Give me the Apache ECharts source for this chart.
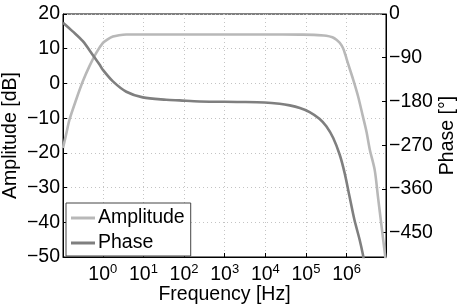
<!DOCTYPE html>
<html>
<head>
<meta charset="utf-8">
<script src="https://cdn.jsdelivr.net/npm/echarts@6/dist/echarts.min.js"></script>
<style>html,body{margin:0;padding:0;background:#fff}#c{width:457px;height:308px}</style>
</head>
<body>
<div id="c"></div>
<script>
// Amplitude series (frequency in Hz, amplitude in dB)
const ampFreq = [0.1052, 0.1259, 0.1514, 0.2213, 0.3236, 0.4677, 0.6918, 1, 1.318, 1.778, 2.512, 3.802, 10, 100, 1000, 10000, 70800, 158000, 316000, 447000, 562000, 676000, 813000, 933000, 1070000, 1450000, 1910000, 2510000, 3090000, 3720000, 4900000, 5890000, 7240000, 8700000, 9300000];
const ampDb = [-18.6, -14.6, -10.5, -4.7, 0.6, 4.9, 8.8, 11.6, 12.7, 13.5, 13.9, 14.1, 14.1, 14.1, 14.1, 14.1, 14.05, 14.0, 13.75, 13.3, 12.6, 11.7, 10.2, 8.2, 5.9, 1.1, -3.7, -9.5, -14.0, -19.1, -24.9, -32.6, -41.2, -48.9, -51.5];
// Phase series (frequency in Hz, phase in degrees)
const phaseFreq = [0.1052, 0.182, 0.3236, 0.5623, 0.832, 1, 1.778, 3.802, 9.66, 36.3, 77.6, 240, 2344, 9550, 22390, 39810, 70790, 123000, 213800, 316200, 467700, 676100, 891300, 1175000, 1549000, 2089000, 2512000, 2818000];
const phaseDeg = [-18, -35.8, -56, -83.8, -104, -114.6, -138.7, -160, -171.6, -176.4, -177.8, -179.9, -181, -182, -184.6, -188, -193.5, -201.7, -215.5, -231, -255, -289.6, -327, -375, -423, -464.5, -495, -520];
// Tick labels
const phaseTicks = [0, -90, -180, -270, -360, -450];
const seriesNames = ['Amplitude', 'Phase'];

const FONT = "'Liberation Sans', Arial, Helvetica, sans-serif";
const FS = 19.5;
const minus = v => String(v).replace('-', '\u2212');

const chart = echarts.init(document.getElementById('c'), null, {renderer: 'canvas'});
chart.setOption({
  animation: false,
  backgroundColor: '#fff',
  textStyle: {fontFamily: FONT},
  grid: {left: 63, right: 71, top: 14, bottom: 51, show: true, borderColor: '#000', borderWidth: 1, containLabel: false, outerBoundsMode: 'none'},
  legend: {
    orient: 'vertical', left: 66, top: 203,
    data: seriesNames,
    icon: 'rect',
    backgroundColor: '#fff', borderColor: '#444', borderWidth: 1,
    padding: [5, 6, 3, 5], itemGap: 5, itemWidth: 24, itemHeight: 3,
    textStyle: {fontSize: FS, color: '#000', fontFamily: FONT, padding: [0, 0, 0, -2]}
  },
  xAxis: {
    type: 'log', logBase: 10, min: ampFreq[0], max: ampFreq[ampFreq.length - 1],
    axisLine: {onZero: false, lineStyle: {color: '#000', width: 1}},
    axisTick: {inside: true, length: 4, lineStyle: {color: '#000'}},
    minorTick: {show: false},
    splitLine: {show: true, lineStyle: {color: '#c4c4c4', type: [1, 3], width: 1}},
    axisLabel: {
      margin: 6, color: '#000', showMinLabel: false, showMaxLabel: false,
      formatter: v => {
        const l = Math.log10(v); const k = Math.round(l);
        if (Math.abs(l - k) > 1e-6) return '';
        return '{b|10}{s|' + k + '}';
      },
      rich: {
        b: {fontSize: FS, fontFamily: FONT, color: '#000', lineHeight: 24},
        s: {fontSize: 13, fontFamily: FONT, color: '#000', lineHeight: 14, verticalAlign: 'top'}
      }
    },
    name: 'Frequency [Hz]', nameLocation: 'middle', nameGap: 28, nameMoveOverlap: false,
    nameTextStyle: {fontSize: FS, color: '#000', fontFamily: FONT}
  },
  yAxis: [{
    type: 'value', min: -50, max: 20, interval: 10, position: 'left',
    axisLine: {show: true, onZero: false, lineStyle: {color: '#000'}},
    axisTick: {show: true, inside: true, length: 4, lineStyle: {color: '#000'}},
    splitLine: {show: true, lineStyle: {color: '#c4c4c4', type: [1, 3], width: 1}},
    axisLabel: {margin: 3, color: '#000', fontSize: FS, fontFamily: FONT, formatter: minus},
    name: 'Amplitude [dB]', nameLocation: 'middle', nameGap: 42, nameRotate: 90, nameMoveOverlap: false,
    nameTextStyle: {fontSize: FS, color: '#000', fontFamily: FONT}
  }, {
    type: 'value', min: -500, max: 0, position: 'right',
    axisLine: {show: true, onZero: false, lineStyle: {color: '#000'}},
    axisTick: {show: true, inside: true, length: 4, lineStyle: {color: '#000'}, customValues: phaseTicks},
    splitLine: {show: false},
    axisLabel: {margin: 3, color: '#000', fontSize: FS, fontFamily: FONT, formatter: minus, customValues: phaseTicks},
    name: 'Phase [\u00b0]', nameLocation: 'middle', nameGap: 52, nameRotate: 90, nameMoveOverlap: false,
    nameTextStyle: {fontSize: FS, color: '#000', fontFamily: FONT}
  }],
  series: [{
    name: seriesNames[0], type: 'line', yAxisIndex: 0, symbol: 'none', smooth: 0.3,
    lineStyle: {color: '#b8b8b8', width: 2.6}, itemStyle: {color: '#b8b8b8'},
    data: ampFreq.map((f, i) => [f, ampDb[i]])
  }, {
    name: seriesNames[1], type: 'line', yAxisIndex: 1, symbol: 'none', smooth: 0.3,
    lineStyle: {color: '#7f7f7f', width: 2.6}, itemStyle: {color: '#7f7f7f'},
    data: phaseFreq.map((f, i) => [f, phaseDeg[i]])
  }]
});
</script>
</body>
</html>
